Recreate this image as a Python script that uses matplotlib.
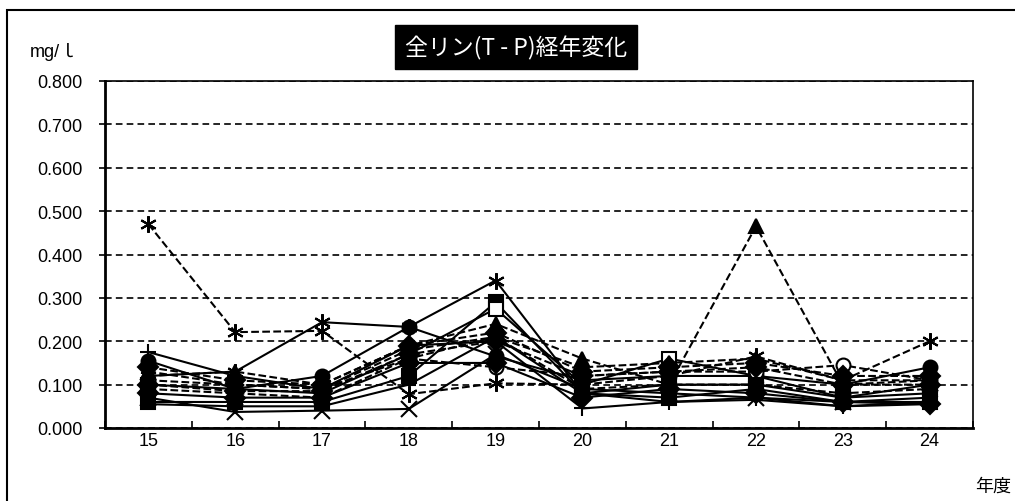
import matplotlib.pyplot as plt
from matplotlib.patches import Rectangle

plt.rcParams['font.family'] = ['Liberation Sans', 'Noto Sans CJK JP', 'DejaVu Sans']

years = ['15', '16', '17', '18', '19', '20', '21', '22', '23', '24']

# T-P (mg/l) per site
s_star_d   = [0.470, 0.221, 0.224, 0.078, 0.103, 0.100, 0.120, 0.165, 0.110, 0.200]
s_star_s   = [0.120, 0.130, 0.244, 0.233, 0.340, 0.080, 0.100, 0.100, 0.070, 0.080]
s_cross    = [0.070, 0.037, 0.040, 0.044, 0.170, 0.090, 0.080, 0.070, 0.060, 0.070]
s_tri_d    = [0.120, 0.130, 0.100, 0.190, 0.240, 0.160, 0.100, 0.465, 0.100, 0.110]
s_sq_f     = [0.060, 0.060, 0.060, 0.120, 0.290, 0.080, 0.070, 0.090, 0.060, 0.060]
s_sq_o     = [0.100, 0.090, 0.080, 0.170, 0.275, 0.100, 0.160, 0.120, 0.070, 0.100]
s_circ_f   = [0.155, 0.090, 0.120, 0.233, 0.165, 0.110, 0.120, 0.120, 0.100, 0.140]
s_circ_o   = [0.110, 0.100, 0.090, 0.160, 0.140, 0.120, 0.130, 0.130, 0.145, 0.110]
s_plus     = [0.175, 0.120, 0.090, 0.190, 0.200, 0.045, 0.060, 0.070, 0.050, 0.060]
s_dia_d    = [0.140, 0.110, 0.100, 0.190, 0.220, 0.130, 0.140, 0.150, 0.120, 0.120]
s_tri_o    = [0.130, 0.100, 0.090, 0.180, 0.210, 0.140, 0.150, 0.160, 0.110, 0.110]
s_dia_o    = [0.100, 0.085, 0.085, 0.170, 0.200, 0.120, 0.130, 0.140, 0.100, 0.100]
s_sq_d     = [0.090, 0.080, 0.070, 0.160, 0.210, 0.090, 0.100, 0.100, 0.080, 0.090]
s_dia_f    = [0.080, 0.070, 0.070, 0.150, 0.150, 0.070, 0.090, 0.080, 0.060, 0.055]
s_line     = [0.055, 0.050, 0.050, 0.100, 0.210, 0.080, 0.060, 0.065, 0.050, 0.055]

ast = (6, 2, 0)  # excel-style asterisk
series = [
    (s_star_d, ast, '--', 'k'),
    (s_star_s, ast, '-', 'k'),
    (s_cross, 'x', '-', 'k'),
    (s_tri_d, '^', '--', 'k'),
    (s_sq_f, 's', '-', 'k'),
    (s_sq_o, 's', '-', 'w'),
    (s_circ_f, 'o', '-', 'k'),
    (s_circ_o, 'o', '--', 'w'),
    (s_plus, '+', '-', 'k'),
    (s_dia_d, 'D', '--', 'k'),
    (s_tri_o, '^', '--', 'k'),
    (s_dia_o, 'D', '--', 'k'),
    (s_sq_d, 's', '--', 'k'),
    (s_dia_f, 'D', '-', 'k'),
    (s_line, '_', '-', 'k'),
]

fig = plt.figure(figsize=(10.15, 5.02), dpi=100)
fig.patches.append(Rectangle((7 / 1015, -0.1), 1.2, 1 - 11 / 502 + 0.1,
                             transform=fig.transFigure, fill=False,
                             edgecolor='black', linewidth=1.5))

ax = fig.add_axes([105 / 1015, 1 - 429 / 502, 868 / 1015, 347 / 502])
x = list(range(len(years)))

for vals, mk, ls, fc in series:
    ms = 12 if mk in ('x', '+', ast) else 10
    ax.plot(x, vals, linestyle=ls, color='black', linewidth=1.5,
            marker=mk, markersize=ms, markerfacecolor=fc,
            markeredgecolor='black', markeredgewidth=1.5, zorder=3)

ax.set_xlim(-0.5, 9.5)
ax.set_ylim(0, 0.8)
ax.set_yticks([i / 10 for i in range(9)])
ax.set_yticklabels(['%.3f' % (i / 10) for i in range(9)], fontsize=13)
ax.set_xticks(x)
ax.set_xticklabels(years, fontsize=13)
ax.set_xticks([i - 0.5 for i in range(11)], minor=True)
ax.tick_params(axis='x', which='major', length=0, pad=3)
ax.tick_params(axis='x', which='minor', direction='in', length=5, width=1.2)
ax.tick_params(axis='y', direction='out', length=4, width=1.2, pad=12)

ax.grid(axis='y', linestyle=(0, (4, 2.5)), color='black', linewidth=1.2, zorder=1)
for sp in ax.spines.values():
    sp.set_linewidth(1.2)
ax.spines['left'].set_linewidth(2)
ax.spines['bottom'].set_linewidth(2)

fig.text(54 / 1015, 1 - 52 / 502, 'mg/ｌ', fontsize=13, ha='center', va='center',
         family=['Liberation Sans', 'Noto Sans CJK JP'])
fig.text(516 / 1015, 1 - 48 / 502, '全リン(T - P)経年変化', fontsize=16.5, color='white',
         ha='center', va='center', family=['Noto Sans CJK JP'],
         bbox=dict(boxstyle='square,pad=0.45', facecolor='black', edgecolor='black'))
fig.text(993 / 1015, 1 - 487 / 502, '年度', fontsize=13, ha='center', va='center',
         family=['Noto Sans CJK JP'])

fig.savefig('out.png', dpi=100)
